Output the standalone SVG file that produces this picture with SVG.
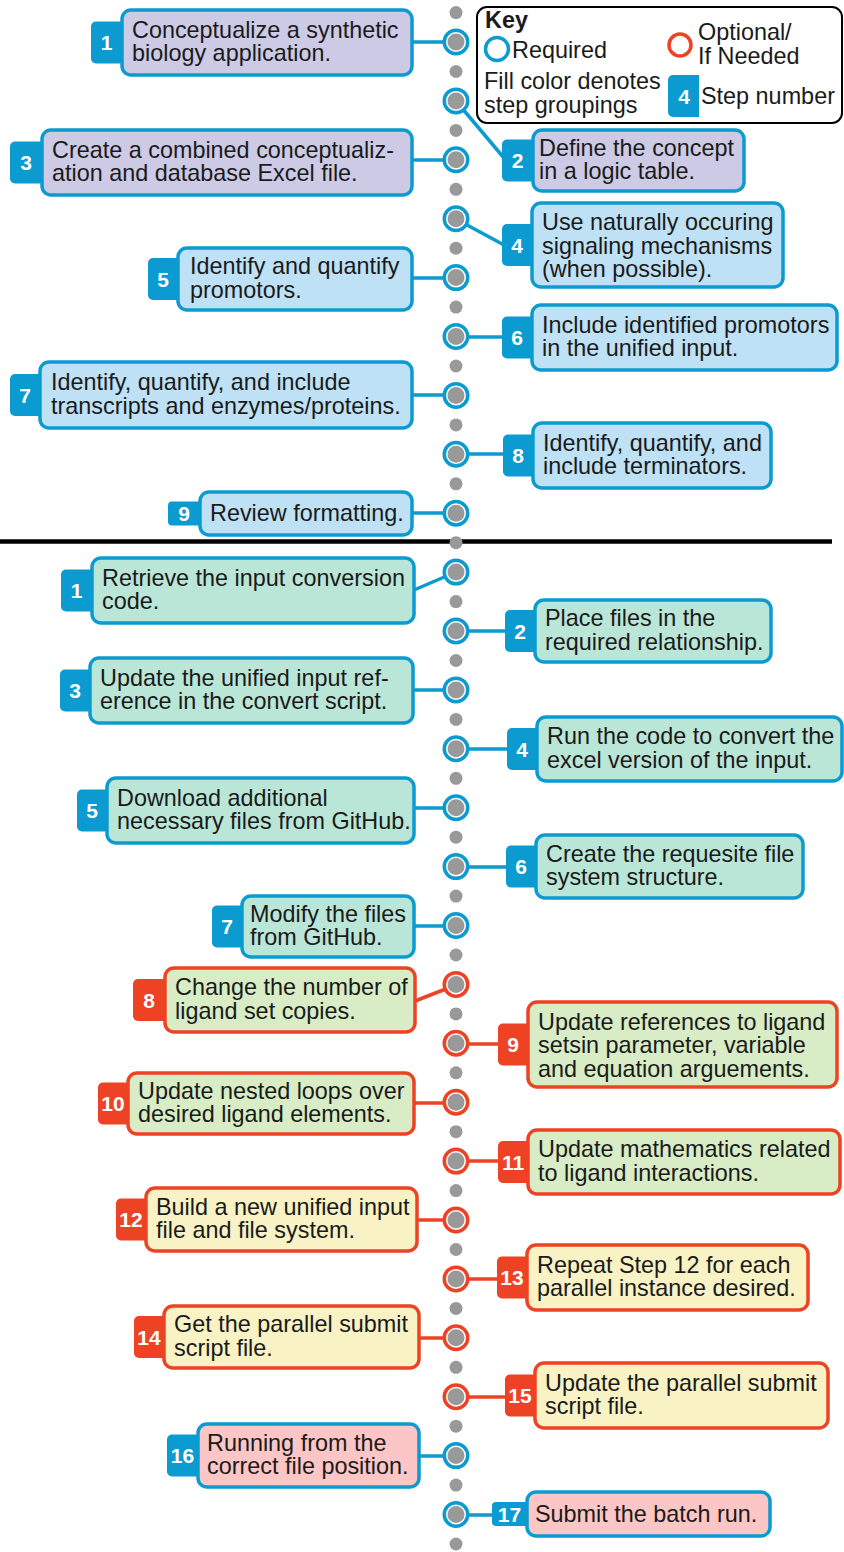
<svg xmlns="http://www.w3.org/2000/svg" width="844" height="1552" viewBox="0 0 844 1552">
<style>
.t{font-family:"Liberation Sans",Arial,sans-serif;font-size:23.4px;fill:#1a1a1a}
.k{font-family:"Liberation Sans",Arial,sans-serif;font-size:23.4px;fill:#1a1a1a}
.n{font-family:"Liberation Sans",Arial,sans-serif;font-weight:bold;font-size:21px;fill:#fff;text-anchor:middle}
.box{stroke-width:3.5}
.B{stroke:#0b9bd0}
.R{stroke:#ee4224}
.tB{fill:#0b9bd0}
.tR{fill:#ee4224}
.lav{fill:#cdcae6}
.lb{fill:#bfe1f5}
.mint{fill:#bae6d8}
.grn{fill:#d8ecc5}
.yel{fill:#f8f2c5}
.pnk{fill:#fcc6c6}
.c{fill:none;stroke-width:3.5}
.ring{fill:#fff;stroke-width:3.5}
.core{fill:#999}
.dot{fill:#999}
</style>

<!-- divider -->
<line x1="0" y1="541.5" x2="832" y2="541.5" stroke="#000" stroke-width="4.5"/>

<!-- connectors -->
<g id="connectors">
<path class="c B" d="M412 42H445"/>
<path class="c B" d="M456 101L504 158"/>
<path class="c B" d="M412 160H445"/>
<path class="c B" d="M456 219L504 245"/>
<path class="c B" d="M412 278H445"/>
<path class="c B" d="M456 337H504"/>
<path class="c B" d="M412 395H445"/>
<path class="c B" d="M456 454H505"/>
<path class="c B" d="M412 513H445"/>
<path class="c B" d="M414 590L456 572"/>
<path class="c B" d="M456 631H507"/>
<path class="c B" d="M413 690H445"/>
<path class="c B" d="M456 749H509"/>
<path class="c B" d="M414 808H445"/>
<path class="c B" d="M456 867H508"/>
<path class="c B" d="M414 926H445"/>
<path class="c R" d="M415 1001L456 985"/>
<path class="c R" d="M456 1044H500"/>
<path class="c R" d="M414 1103H445"/>
<path class="c R" d="M456 1161H500"/>
<path class="c R" d="M417 1220H445"/>
<path class="c R" d="M456 1279H499"/>
<path class="c R" d="M419 1338H445"/>
<path class="c R" d="M456 1397H507"/>
<path class="c B" d="M419 1456H445"/>
<path class="c B" d="M456 1515H494"/>
</g>

<!-- timeline dots -->
<g id="timeline">
<circle class="dot" cx="456" cy="12.6" r="6.5"/>
<circle class="dot" cx="456" cy="71.5" r="6.5"/>
<circle class="dot" cx="456" cy="130.4" r="6.5"/>
<circle class="dot" cx="456" cy="189.3" r="6.5"/>
<circle class="dot" cx="456" cy="248.2" r="6.5"/>
<circle class="dot" cx="456" cy="307.1" r="6.5"/>
<circle class="dot" cx="456" cy="366" r="6.5"/>
<circle class="dot" cx="456" cy="424.9" r="6.5"/>
<circle class="dot" cx="456" cy="483.8" r="6.5"/>
<circle class="dot" cx="456" cy="542.7" r="6.5"/>
<circle class="dot" cx="456" cy="601.6" r="6.5"/>
<circle class="dot" cx="456" cy="660.5" r="6.5"/>
<circle class="dot" cx="456" cy="719.4" r="6.5"/>
<circle class="dot" cx="456" cy="778.3" r="6.5"/>
<circle class="dot" cx="456" cy="837.2" r="6.5"/>
<circle class="dot" cx="456" cy="896.1" r="6.5"/>
<circle class="dot" cx="456" cy="955" r="6.5"/>
<circle class="dot" cx="456" cy="1013.9" r="6.5"/>
<circle class="dot" cx="456" cy="1072.8" r="6.5"/>
<circle class="dot" cx="456" cy="1131.7" r="6.5"/>
<circle class="dot" cx="456" cy="1190.6" r="6.5"/>
<circle class="dot" cx="456" cy="1249.5" r="6.5"/>
<circle class="dot" cx="456" cy="1308.4" r="6.5"/>
<circle class="dot" cx="456" cy="1367.3" r="6.5"/>
<circle class="dot" cx="456" cy="1426.2" r="6.5"/>
<circle class="dot" cx="456" cy="1485.1" r="6.5"/>
<circle class="dot" cx="456" cy="1544" r="6.5"/>
</g>

<!-- step circles -->
<g id="steps">
<g><circle class="ring B" cx="456" cy="42" r="11.75"/><circle class="core" cx="456" cy="42" r="8.5"/></g>
<g><circle class="ring B" cx="456" cy="100.9" r="11.75"/><circle class="core" cx="456" cy="100.9" r="8.5"/></g>
<g><circle class="ring B" cx="456" cy="159.8" r="11.75"/><circle class="core" cx="456" cy="159.8" r="8.5"/></g>
<g><circle class="ring B" cx="456" cy="218.7" r="11.75"/><circle class="core" cx="456" cy="218.7" r="8.5"/></g>
<g><circle class="ring B" cx="456" cy="277.6" r="11.75"/><circle class="core" cx="456" cy="277.6" r="8.5"/></g>
<g><circle class="ring B" cx="456" cy="336.5" r="11.75"/><circle class="core" cx="456" cy="336.5" r="8.5"/></g>
<g><circle class="ring B" cx="456" cy="395.4" r="11.75"/><circle class="core" cx="456" cy="395.4" r="8.5"/></g>
<g><circle class="ring B" cx="456" cy="454.3" r="11.75"/><circle class="core" cx="456" cy="454.3" r="8.5"/></g>
<g><circle class="ring B" cx="456" cy="513.2" r="11.75"/><circle class="core" cx="456" cy="513.2" r="8.5"/></g>
<g><circle class="ring B" cx="456" cy="572.1" r="11.75"/><circle class="core" cx="456" cy="572.1" r="8.5"/></g>
<g><circle class="ring B" cx="456" cy="631" r="11.75"/><circle class="core" cx="456" cy="631" r="8.5"/></g>
<g><circle class="ring B" cx="456" cy="689.9" r="11.75"/><circle class="core" cx="456" cy="689.9" r="8.5"/></g>
<g><circle class="ring B" cx="456" cy="748.8" r="11.75"/><circle class="core" cx="456" cy="748.8" r="8.5"/></g>
<g><circle class="ring B" cx="456" cy="807.7" r="11.75"/><circle class="core" cx="456" cy="807.7" r="8.5"/></g>
<g><circle class="ring B" cx="456" cy="866.6" r="11.75"/><circle class="core" cx="456" cy="866.6" r="8.5"/></g>
<g><circle class="ring B" cx="456" cy="925.5" r="11.75"/><circle class="core" cx="456" cy="925.5" r="8.5"/></g>
<g><circle class="ring R" cx="456" cy="984.4" r="11.75"/><circle class="core" cx="456" cy="984.4" r="8.5"/></g>
<g><circle class="ring R" cx="456" cy="1043.3" r="11.75"/><circle class="core" cx="456" cy="1043.3" r="8.5"/></g>
<g><circle class="ring R" cx="456" cy="1102.2" r="11.75"/><circle class="core" cx="456" cy="1102.2" r="8.5"/></g>
<g><circle class="ring R" cx="456" cy="1161.1" r="11.75"/><circle class="core" cx="456" cy="1161.1" r="8.5"/></g>
<g><circle class="ring R" cx="456" cy="1220" r="11.75"/><circle class="core" cx="456" cy="1220" r="8.5"/></g>
<g><circle class="ring R" cx="456" cy="1278.9" r="11.75"/><circle class="core" cx="456" cy="1278.9" r="8.5"/></g>
<g><circle class="ring R" cx="456" cy="1337.8" r="11.75"/><circle class="core" cx="456" cy="1337.8" r="8.5"/></g>
<g><circle class="ring R" cx="456" cy="1396.7" r="11.75"/><circle class="core" cx="456" cy="1396.7" r="8.5"/></g>
<g><circle class="ring B" cx="456" cy="1455.6" r="11.75"/><circle class="core" cx="456" cy="1455.6" r="8.5"/></g>
<g><circle class="ring B" cx="456" cy="1514.5" r="11.75"/><circle class="core" cx="456" cy="1514.5" r="8.5"/></g>
</g>

<!-- key -->
<g id="key">
<rect x="477" y="7" width="365" height="116" rx="10" fill="#fff" stroke="#000" stroke-width="2"/>
<text class="k" x="485" y="28" font-weight="bold">Key</text>
<circle cx="497" cy="49" r="11.5" fill="none" stroke="#0b9bd0" stroke-width="3.5"/>
<text class="k" x="512" y="58">Required</text>
<circle cx="680" cy="45" r="11" fill="none" stroke="#ee4224" stroke-width="3.5"/>
<text class="k" x="698" y="40">Optional/</text>
<text class="k" x="698" y="64">If Needed</text>
<text class="k" x="484" y="89">Fill color denotes</text>
<text class="k" x="484" y="113">step groupings</text>
<rect x="668" y="75" width="31" height="42" rx="5" fill="#0b9bd0"/>
<rect x="690" y="75" width="9" height="42" fill="#0b9bd0"/>
<text class="n" x="684" y="104">4</text>
<text class="k" x="701" y="104">Step number</text>
</g>

<!-- top section nodes -->
<g id="a1"><rect class="tB" x="91" y="21.5" width="45" height="42" rx="5"/><rect class="box B lav" x="122" y="10" width="290" height="65" rx="9"/><text class="n" x="106.5" y="50">1</text><text class="t" x="132" y="37.5">Conceptualize a synthetic<tspan x="132" dy="23.5">biology application.</tspan></text></g>
<g id="a2"><rect class="tB" x="502" y="139.5" width="45" height="42" rx="5"/><rect class="box B lav" x="533" y="130" width="211" height="61" rx="9"/><text class="n" x="517.5" y="168">2</text><text class="t" x="539" y="155.5">Define the concept<tspan x="539" dy="23.5">in a logic table.</tspan></text></g>
<g id="a3"><rect class="tB" x="10" y="141.5" width="45" height="42" rx="5"/><rect class="box B lav" x="42" y="130" width="370" height="65" rx="9"/><text class="n" x="26" y="170">3</text><text class="t" x="52" y="157.5">Create a combined conceptualiz-<tspan x="52" dy="23.5">ation and database Excel file.</tspan></text></g>
<g id="a4"><rect class="tB" x="502" y="224" width="45" height="42" rx="5"/><rect class="box B lb" x="532" y="203" width="251" height="84" rx="9"/><text class="n" x="517" y="252.5">4</text><text class="t" x="542" y="230">Use naturally occuring<tspan x="542" dy="23.5">signaling mechanisms</tspan><tspan x="542" dy="23.5">(when possible).</tspan></text></g>
<g id="a5"><rect class="tB" x="148" y="258" width="45" height="42" rx="5"/><rect class="box B lb" x="178" y="248" width="234" height="62" rx="9"/><text class="n" x="163" y="286.5">5</text><text class="t" x="190" y="274">Identify and quantify<tspan x="190" dy="23.5">promotors.</tspan></text></g>
<g id="a6"><rect class="tB" x="502" y="316.5" width="45" height="42" rx="5"/><rect class="box B lb" x="532" y="305" width="305" height="65" rx="9"/><text class="n" x="517" y="345">6</text><text class="t" x="542" y="332.5">Include identified promotors<tspan x="542" dy="23.5">in the unified input.</tspan></text></g>
<g id="a7"><rect class="tB" x="10" y="374" width="45" height="42" rx="5"/><rect class="box B lb" x="40" y="362" width="372" height="66" rx="9"/><text class="n" x="25" y="402.5">7</text><text class="t" x="51" y="390">Identify, quantify, and include<tspan x="51" dy="23.5">transcripts and enzymes/proteins.</tspan></text></g>
<g id="a8"><rect class="tB" x="503" y="434.5" width="45" height="42" rx="5"/><rect class="box B lb" x="533" y="423" width="238" height="65" rx="9"/><text class="n" x="518" y="463">8</text><text class="t" x="543" y="450.5">Identify, quantify, and<tspan x="543" dy="23.5">include terminators.</tspan></text></g>
<g id="a9"><rect class="tB" x="168" y="501.5" width="45" height="24" rx="4"/><rect class="box B lb" x="200" y="492" width="212" height="43" rx="9"/><text class="n" x="184" y="521">9</text><text class="t" x="210" y="521">Review formatting.</text></g>

<!-- bottom section nodes -->
<g id="b1"><rect class="tB" x="61" y="569.5" width="45" height="42" rx="5"/><rect class="box B mint" x="92" y="558" width="322" height="65" rx="9"/><text class="n" x="76.5" y="598">1</text><text class="t" x="102" y="585.5">Retrieve the input conversion<tspan x="102" dy="23.5">code.</tspan></text></g>
<g id="b2"><rect class="tB" x="505" y="610" width="45" height="42" rx="5"/><rect class="box B mint" x="535" y="600" width="236" height="62" rx="9"/><text class="n" x="520" y="638.5">2</text><text class="t" x="545" y="626">Place files in the<tspan x="545" dy="23.5">required relationship.</tspan></text></g>
<g id="b3"><rect class="tB" x="60" y="669.5" width="45" height="42" rx="5"/><rect class="box B mint" x="90" y="658" width="323" height="65" rx="9"/><text class="n" x="75" y="698">3</text><text class="t" x="100" y="685.5">Update the unified input ref-<tspan x="100" dy="23.5">erence in the convert script.</tspan></text></g>
<g id="b4"><rect class="tB" x="507" y="728" width="45" height="42" rx="5"/><rect class="box B mint" x="537" y="717" width="305" height="64" rx="9"/><text class="n" x="522" y="756.5">4</text><text class="t" x="547" y="744">Run the code to convert the<tspan x="547" dy="23.5">excel version of the input.</tspan></text></g>
<g id="b5"><rect class="tB" x="77" y="789.5" width="45" height="42" rx="5"/><rect class="box B mint" x="107" y="778" width="307" height="65" rx="9"/><text class="n" x="92" y="818">5</text><text class="t" x="117" y="805.5">Download additional<tspan x="117" dy="23.5">necessary files from GitHub.</tspan></text></g>
<g id="b6"><rect class="tB" x="506" y="845.5" width="45" height="42" rx="5"/><rect class="box B mint" x="536" y="835" width="267" height="63" rx="9"/><text class="n" x="521" y="874">6</text><text class="t" x="546" y="861.5">Create the requesite file<tspan x="546" dy="23.5">system structure.</tspan></text></g>
<g id="b7"><rect class="tB" x="212" y="905.5" width="45" height="42" rx="5"/><rect class="box B mint" x="242" y="896" width="172" height="61" rx="9"/><text class="n" x="227" y="934">7</text><text class="t" x="250" y="921.5">Modify the files<tspan x="250" dy="23.5">from GitHub.</tspan></text></g>
<g id="b8"><rect class="tR" x="133" y="979" width="45" height="42" rx="5"/><rect class="box R grn" x="165" y="968" width="250" height="64" rx="9"/><text class="n" x="149" y="1007.5">8</text><text class="t" x="175" y="995">Change the number of<tspan x="175" dy="23.5">ligand set copies.</tspan></text></g>
<g id="b9"><rect class="tR" x="498" y="1023.5" width="45" height="42" rx="5"/><rect class="box R grn" x="528" y="1002" width="309" height="85" rx="9"/><text class="n" x="513" y="1052">9</text><text class="t" x="538" y="1029.5">Update references to ligand<tspan x="538" dy="23.5">setsin parameter, variable</tspan><tspan x="538" dy="23.5">and equation arguements.</tspan></text></g>
<g id="b10"><rect class="tR" x="98" y="1082.5" width="45" height="42" rx="5"/><rect class="box R grn" x="128" y="1073" width="286" height="61" rx="9"/><text class="n" x="113" y="1111">10</text><text class="t" x="138" y="1098.5">Update nested loops over<tspan x="138" dy="23.5">desired ligand elements.</tspan></text></g>
<g id="b11"><rect class="tR" x="498" y="1141" width="45" height="42" rx="5"/><rect class="box R grn" x="528" y="1130" width="312" height="64" rx="9"/><text class="n" x="513" y="1169.5">11</text><text class="t" x="538" y="1157">Update mathematics related<tspan x="538" dy="23.5">to ligand interactions.</tspan></text></g>
<g id="b12"><rect class="tR" x="116" y="1198.5" width="45" height="42" rx="5"/><rect class="box R yel" x="146" y="1188" width="271" height="63" rx="9"/><text class="n" x="131" y="1227">12</text><text class="t" x="156" y="1214.5">Build a new unified input<tspan x="156" dy="23.5">file and file system.</tspan></text></g>
<g id="b13"><rect class="tR" x="497" y="1256.5" width="45" height="42" rx="5"/><rect class="box R yel" x="527" y="1245" width="281" height="65" rx="9"/><text class="n" x="512" y="1285">13</text><text class="t" x="537" y="1272.5">Repeat Step 12 for each<tspan x="537" dy="23.5">parallel instance desired.</tspan></text></g>
<g id="b14"><rect class="tR" x="134" y="1316" width="45" height="42" rx="5"/><rect class="box R yel" x="164" y="1306" width="255" height="62" rx="9"/><text class="n" x="149" y="1344.5">14</text><text class="t" x="174" y="1332">Get the parallel submit<tspan x="174" dy="23.5">script file.</tspan></text></g>
<g id="b15"><rect class="tR" x="505" y="1374.5" width="45" height="42" rx="5"/><rect class="box R yel" x="535" y="1363" width="293" height="65" rx="9"/><text class="n" x="520" y="1403">15</text><text class="t" x="545" y="1390.5">Update the parallel submit<tspan x="545" dy="23.5">script file.</tspan></text></g>
<g id="b16"><rect class="tB" x="167" y="1434.5" width="45" height="42" rx="5"/><rect class="box B pnk" x="198" y="1424" width="221" height="63" rx="9"/><text class="n" x="182.5" y="1463">16</text><text class="t" x="207" y="1450.5">Running from the<tspan x="207" dy="23.5">correct file position.</tspan></text></g>
<g id="b17"><rect class="tB" x="492" y="1502" width="45" height="24" rx="4"/><rect class="box B pnk" x="527" y="1492" width="243" height="44" rx="9"/><text class="n" x="509.5" y="1521.5">17</text><text class="t" x="535" y="1521.5">Submit the batch run.</text></g>
</svg>
